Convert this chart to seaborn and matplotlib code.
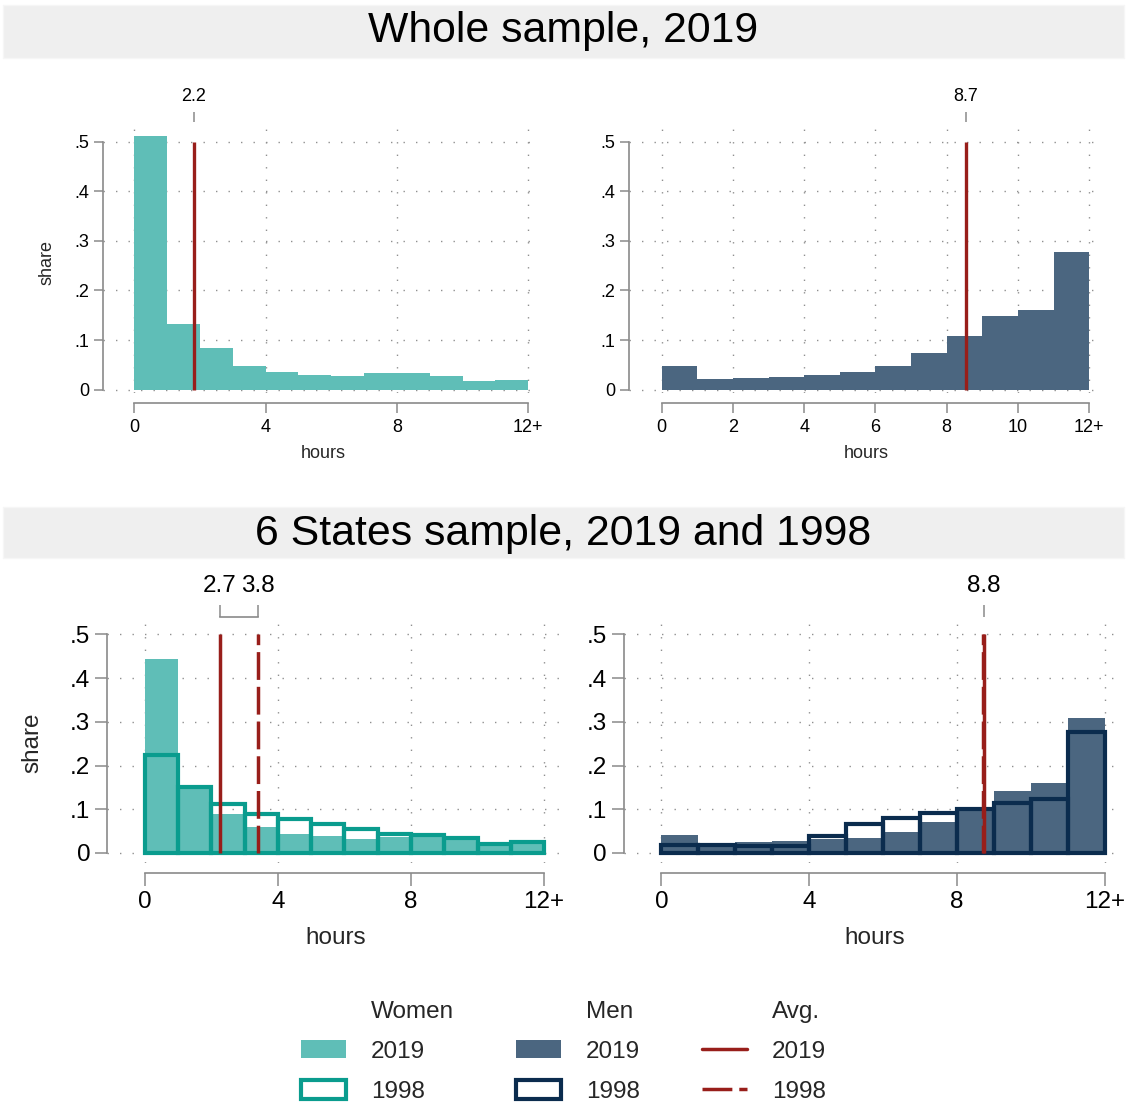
import numpy as np
import pandas as pd
import matplotlib
matplotlib.use("Agg")
import matplotlib.pyplot as plt
import seaborn as sns
from matplotlib.patches import Patch, Rectangle
from matplotlib.lines import Line2D

# ---------------- data ----------------
hours = [0, 1, 2, 3, 4, 5, 6, 7, 8, 9, 10, 11]          # bin starts (hours)
bin_edges = [0, 1, 2, 3, 4, 5, 6, 7, 8, 9, 10, 11, 12]

# Whole sample, 2019
women_2019_whole = [0.512, 0.133, 0.083, 0.048, 0.036, 0.030, 0.028, 0.034, 0.034, 0.028, 0.018, 0.020]
men_2019_whole = [0.048, 0.0215, 0.0235, 0.026, 0.030, 0.036, 0.048, 0.073, 0.108, 0.149, 0.161, 0.278]

# 6 States sample, 2019 and 1998
women_2019_six = [0.444, 0.146, 0.089, 0.060, 0.0435, 0.039, 0.032, 0.0375, 0.040, 0.029, 0.019, 0.021]
women_1998_six = [0.224, 0.151, 0.113, 0.090, 0.078, 0.067, 0.055, 0.044, 0.041, 0.034, 0.021, 0.024]
men_2019_six = [0.040, 0.021, 0.024, 0.027, 0.031, 0.034, 0.047, 0.070, 0.103, 0.141, 0.160, 0.308]
men_1998_six = [0.019, 0.0175, 0.016, 0.016, 0.038, 0.066, 0.080, 0.092, 0.100, 0.115, 0.124, 0.277]

# averages (line positions) and their printed labels
avg_women_whole_2019 = 1.81
avg_men_whole_2019 = 8.54
avg_women_six_2019 = 2.26
avg_women_six_1998 = 3.41
avg_men_six_2019 = 8.73
avg_men_six_1998 = 8.70
avg_ticks_women_whole = [1.81]
avg_labels_women_whole = ["2.2"]
avg_ticks_men_whole = [8.54]
avg_labels_men_whole = ["8.7"]
avg_ticks_women_six = [2.26, 3.41]
avg_labels_women_six = ["2.7", "3.8"]
avg_ticks_men_six = [8.72]
avg_labels_men_six = ["8.8"]

# tick labels
y_ticks = [0, 0.1, 0.2, 0.3, 0.4, 0.5]
y_ticklabels = ["0", ".1", ".2", ".3", ".4", ".5"]
x_ticks_4 = [0, 4, 8, 12]
x_ticklabels_4 = ["0", "4", "8", "12+"]
x_ticks_2 = [0, 2, 4, 6, 8, 10, 12]
x_ticklabels_2 = ["0", "2", "4", "6", "8", "10", "12+"]

titles = ["Whole sample, 2019", "6 States sample, 2019 and 1998"]

# ---------------- style ----------------
sns.set_theme(style="white")
plt.rcParams["font.family"] = ["Liberation Sans", "DejaVu Sans"]

TEAL_FILL = "#5fbeb7"
TEAL_LINE = "#0a9c8e"
SLATE = "#4b6680"
NAVY = "#0b2c4e"
RED = "#981e1a"
GRAY = "#8a8a8a"
GRID = "#909090"

W, H = 1127, 1115
fig = plt.figure(figsize=(W / 100, H / 100), dpi=100)
fig.patch.set_facecolor("white")


def rect(l, r, t, b):
    return [l / W, 1 - b / H, (r - l) / W, (b - t) / H]


def style_panel(ax, xlim, ylim, fs, xt, xtl, big, ylabel, xlab_pos, ylab_pos,
                avg_ticks, avg_labels):
    ax.set_xlim(*xlim)
    ax.set_ylim(*ylim)
    ax.set_xticks(xt)
    ax.set_xticklabels(xtl)
    ax.set_yticks(y_ticks)
    ax.set_yticklabels(y_ticklabels)
    ax.set_axisbelow(True)
    ax.grid(True, linestyle=(0, (1, 8)), color=GRID, linewidth=1.0)
    for s in ["top", "right"]:
        ax.spines[s].set_visible(False)
    ax.spines["left"].set_bounds(0, 0.5)
    ax.spines["bottom"].set_bounds(0, 12)
    ax.spines["bottom"].set_position(("outward", 6.8 if big else 7.2))
    for s in ["left", "bottom"]:
        ax.spines[s].set_color(GRAY)
        ax.spines[s].set_linewidth(1.2)
    ax.tick_params(axis="y", left=True, direction="out", length=8.4 if big else 6.5,
                   width=1.1, color=GRAY, pad=3.8 if big else 3.6, labelsize=fs,
                   labelcolor="black")
    ax.tick_params(axis="x", bottom=True, direction="out", length=9.1 if big else 7.2,
                   width=1.1, color=GRAY, pad=4.3 if big else 4.0, labelsize=fs,
                   labelcolor="black")
    ax.set_xlabel("hours", fontsize=fs, va="center")
    ax.xaxis.set_label_coords(*xlab_pos)
    if ylabel:
        ax.set_ylabel("share", fontsize=fs, va="center")
        ax.yaxis.set_label_coords(*ylab_pos)
    else:
        ax.set_ylabel("")
    # top axis carrying the average labels
    ax2 = ax.twiny()
    ax2.set_xlim(*xlim)
    ax2.set_xticks(avg_ticks)
    ax2.set_xticklabels(avg_labels)
    ax2.grid(False)
    for s in ["left", "right", "bottom"]:
        ax2.spines[s].set_visible(False)
    ax2.spines["top"].set_bounds(min(avg_ticks), max(avg_ticks))
    ax2.spines["top"].set_color(GRAY)
    ax2.spines["top"].set_linewidth(1.2)
    ax2.tick_params(axis="x", top=True, direction="out", length=8.6 if big else 7.2,
                    width=1.1, color=GRAY, pad=5.6 if big else 4.6, labelsize=fs,
                    labelcolor="black")


def fill_hist(ax, vals, color):
    sns.histplot(x=hours, weights=vals, bins=bin_edges, ax=ax, color=color,
                 alpha=1, edgecolor="none", linewidth=0, zorder=2)


def outline_hist(ax, vals, color):
    sns.histplot(x=hours, weights=vals, bins=bin_edges, ax=ax, color=color,
                 fill=False, linewidth=3.0, zorder=3)


# ---- title bars ----
for (t, b, base), title in zip([(5, 58, 41.7), (507, 558, 545.5)], titles):
    fig.add_artist(Rectangle((3 / W, 1 - b / H), (W - 6) / W, (b - t) / H,
                             transform=fig.transFigure, facecolor="#efefef",
                             edgecolor="#f6f6f6", linewidth=1))
    fig.text(0.5, 1 - base / H, title, ha="center", va="baseline", fontsize=30.8,
             color="black")

# ---- top-left: women whole sample ----
ax = fig.add_axes(rect(103.4, 539.7, 121.7, 393.3))
fill_hist(ax, women_2019_whole, TEAL_FILL)
ax.vlines(avg_women_whole_2019, 0, 0.5, color=RED, linewidth=2.4, zorder=4)
style_panel(ax, (-0.94, 12.35), (-0.0073, 0.540), 13, x_ticks_4, x_ticklabels_4, False,
            True, (0.503, -0.221), (-0.129, 0.481),
            avg_ticks_women_whole, avg_labels_women_whole)

# ---- top-right: men whole sample ----
ax = fig.add_axes(rect(629.2, 1104.2, 121.7, 393.3))
fill_hist(ax, men_2019_whole, SLATE)
ax.vlines(avg_men_whole_2019, 0, 0.5, color=RED, linewidth=2.4, zorder=4)
style_panel(ax, (-0.91, 12.42), (-0.0073, 0.540), 13, x_ticks_2, x_ticklabels_2, False,
            False, (0.5, -0.221), None,
            avg_ticks_men_whole, avg_labels_men_whole)

# ---- bottom-left: women 6 states ----
ax = fig.add_axes(rect(107.4, 564.8, 617, 863.3))
fill_hist(ax, women_2019_six, TEAL_FILL)
outline_hist(ax, women_1998_six, TEAL_LINE)
ax.vlines(avg_women_six_2019, 0, 0.5, color=RED, linewidth=2.5, zorder=4)
ax.vlines(avg_women_six_1998, 0, 0.5, color=RED, linewidth=2.5, zorder=4,
          linestyles=[(0, (8, 2))])
style_panel(ax, (-1.12, 12.62), (-0.0236, 0.5396), 17.5, x_ticks_4, x_ticklabels_4, True,
            True, (0.5, -0.3045), (-0.164, 0.488),
            avg_ticks_women_six, avg_labels_women_six)

# ---- bottom-right: men 6 states ----
ax = fig.add_axes(rect(623.6, 1118, 617, 863.3))
fill_hist(ax, men_2019_six, SLATE)
outline_hist(ax, men_1998_six, NAVY)
ax.vlines(avg_men_six_2019, 0, 0.5, color=RED, linewidth=2.5, zorder=4)
ax.vlines(avg_men_six_1998, 0, 0.5, color=RED, linewidth=2.5, zorder=4,
          linestyles=[(0, (8, 2))])
style_panel(ax, (-1.02, 12.35), (-0.0236, 0.5396), 17.5, x_ticks_4, x_ticklabels_4, True,
            False, (0.507, -0.3045), None,
            avg_ticks_men_six, avg_labels_men_six)

# ---- legend ----
blank = Patch(facecolor="none", edgecolor="none")
handles = [
    blank, Patch(facecolor=TEAL_FILL, edgecolor="none"),
    Patch(facecolor="white", edgecolor=TEAL_LINE, linewidth=3),
    blank, Patch(facecolor=SLATE, edgecolor="none"),
    Patch(facecolor="white", edgecolor=NAVY, linewidth=3),
    blank, Line2D([], [], color=RED, linewidth=2.5),
    Line2D([], [], color=RED, linewidth=2.5, linestyle=(0, (8.6, 2))),
]
labels = ["Women", "2019", "1998", "Men", "2019", "1998", "Avg.", "2019", "1998"]
fig.legend(handles, labels, ncol=3, loc="center", bbox_to_anchor=(0.5, 1 - 1051.5 / H),
           frameon=False, fontsize=17.5, handlelength=1.85, handleheight=0.78,
           handletextpad=1.03, columnspacing=2.55, labelspacing=0.72, borderpad=0)

fig.savefig("out.png", dpi=100)
